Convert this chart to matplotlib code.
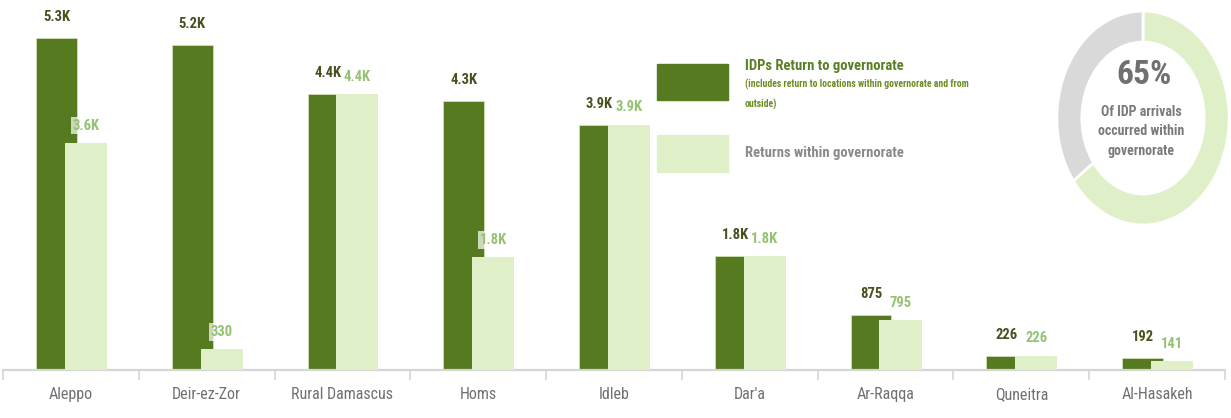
import matplotlib.pyplot as plt
from matplotlib.patches import Rectangle

# data
categories = ['Aleppo', 'Deir-ez-Zor', 'Rural Damascus', 'Homs', 'Idleb',
              "Dar'a", 'Ar-Raqqa', 'Quneitra', 'Al-Hasakeh']
idp_return = [5300, 5180, 4400, 4290, 3910, 1820, 875, 226, 192]
within_gov = [3620, 330, 4400, 1800, 3910, 1820, 795, 226, 141]
share_within = [65, 35]

fonts = ['Roboto Condensed', 'Liberation Sans Narrow', 'DejaVu Sans']
plt.rcParams['font.family'] = fonts

dark = '#557a1f'
light = '#dff0c8'


def fmt(v):
    return f"{v / 1000:.1f}K" if v >= 1000 else str(v)


fig = plt.figure(figsize=(12.31, 4.18), dpi=100)
ax = fig.add_axes([3 / 1231, 48 / 418, 1222 / 1231, 370 / 418])

x = range(len(categories))
xd = [i - 0.107 for i in x]
xl = [i + 0.11 for i in x]
ax.bar(xd, idp_return, width=0.30, color=dark, edgecolor='#cfe0b4', linewidth=0.6, zorder=2)
ax.bar(xl, within_gov, width=0.31, color=light, zorder=3)

for xi, v in zip(xd, idp_return):
    ax.annotate(fmt(v), (xi, v), xytext=(0, 15), textcoords='offset points',
                ha='center', va='center', fontsize=10.5, fontweight='bold',
                color='#48501e', zorder=5)
for xi, v in zip(xl, within_gov):
    ax.annotate(fmt(v), (xi, v), xytext=(0, 12.5), textcoords='offset points',
                ha='center', va='center', fontsize=10.5, fontweight='bold',
                color='#93c272', zorder=5,
                bbox=dict(boxstyle='square,pad=0.12', fc='white', ec='none', alpha=0.7))

ax.set_xlim(-0.5, len(categories) - 0.5)
ax.set_ylim(0, 5900)
ax.set_xticks(list(x))
ax.set_xticklabels(categories, fontsize=11.5, color='#707070')
ax.tick_params(axis='x', which='major', length=0, pad=12)
ax.set_xticks([i - 0.5 for i in range(len(categories) + 1)], minor=True)
ax.tick_params(axis='x', which='minor', length=7, width=1.2, color='#d5d5d5')
ax.set_yticks([])
for s in ['top', 'right', 'left']:
    ax.spines[s].set_visible(False)
ax.spines['bottom'].set_color('#d5d5d5')
ax.spines['bottom'].set_linewidth(1.6)

# legend
fig.patches.append(Rectangle((657 / 1231, 1 - 100 / 418), 71 / 1231, 36 / 418,
                             transform=fig.transFigure, color=dark))
fig.patches.append(Rectangle((657 / 1231, 1 - 172 / 418), 71 / 1231, 37 / 418,
                             transform=fig.transFigure, color=light))
fig.text(745 / 1231, 1 - 66 / 418, 'IDPs Return to governorate', fontsize=10.5,
         fontweight='bold', color='#5b7f25', va='center')
fig.text(745 / 1231, 1 - 94 / 418,
         '(includes return to locations within governorate and from\noutside)',
         fontsize=7, fontweight='bold', color='#6b8e23', va='center', linespacing=2.0)
fig.text(745 / 1231, 1 - 153 / 418, 'Returns within governorate', fontsize=10.5,
         fontweight='bold', color='#8a8a8a', va='center')

# donut
dax = fig.add_axes([1056 / 1231, 1 - 226 / 418, 174 / 1231, 216 / 418])
dax.pie(share_within, colors=[light, '#d9d9d9'], startangle=90, counterclock=False,
        wedgeprops=dict(width=0.29, edgecolor='white', linewidth=2))
dax.set_aspect('auto')
dax.set_xlim(-1.01, 1.01)
dax.set_ylim(-1.01, 1.01)
dax.axis('off')
fig.text(1144 / 1231, 1 - 75 / 418, f'{share_within[0]}%', fontsize=24,
         fontweight='bold', color='#707070', ha='center', va='center')
fig.text(1141 / 1231, 1 - 131 / 418, 'Of IDP arrivals\noccurred within\ngovernorate',
         fontsize=10, fontweight='bold', color='#7a7a7a', ha='center', va='center',
         linespacing=1.5)

fig.savefig('out.png', dpi=100)
